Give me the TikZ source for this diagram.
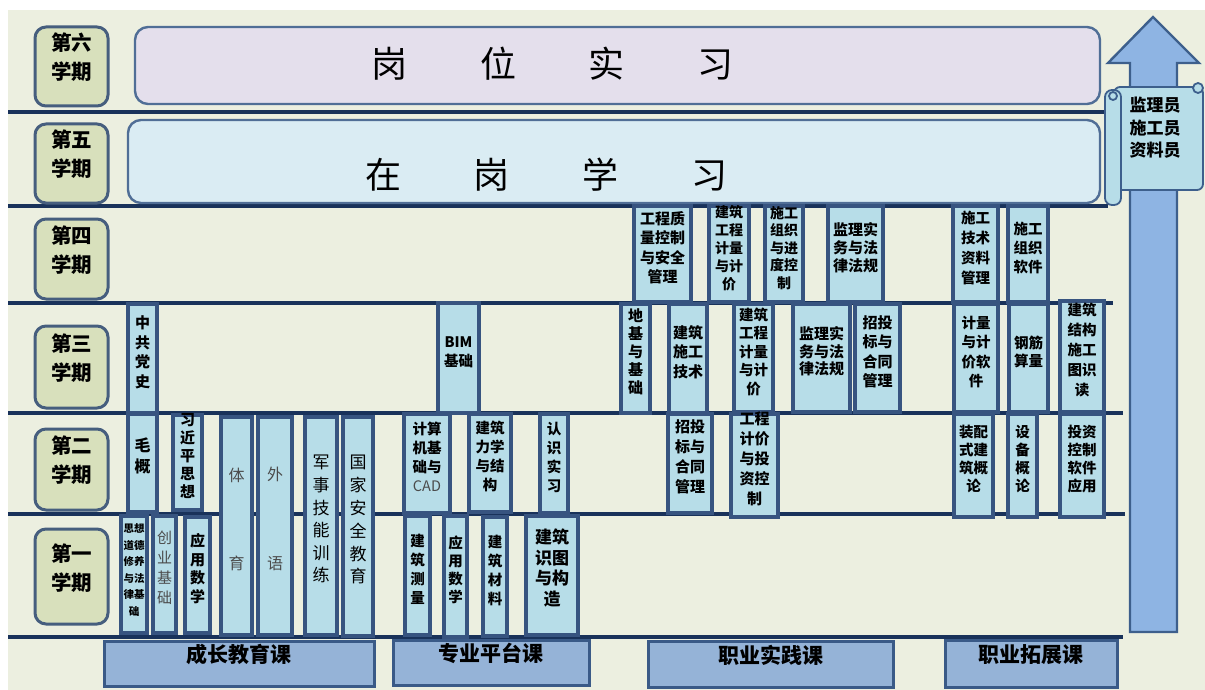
\documentclass[tikz,border=0pt]{standalone}
\usepackage{fontspec}
\setmainfont{Noto Sans CJK SC}
\usetikzlibrary{fit}
\definecolor{bg}{RGB}{236,239,224}
\definecolor{sepcol}{RGB}{25,50,90}
\definecolor{semfill}{RGB}{216,224,188}
\definecolor{semline}{RGB}{70,94,126}
\definecolor{cfill}{RGB}{183,221,232}
\definecolor{cline}{RGB}{55,84,128}
\definecolor{purp}{RGB}{228,223,236}
\definecolor{lblue}{RGB}{218,236,243}
\definecolor{bigline}{RGB}{80,110,150}
\definecolor{catfill}{RGB}{149,179,215}
\definecolor{catline}{RGB}{58,90,135}
\definecolor{arrfill}{RGB}{142,180,227}
\definecolor{arrline}{RGB}{61,95,140}
\definecolor{gtext}{RGB}{75,75,75}
\tikzset{
  sep/.style={draw=sepcol, line width=3.2pt},
  sem/.style={draw=semline, fill=semfill, line width=3pt, rounded corners=11pt, inner sep=0pt, align=center, font=\bfseries\fontsize{20.5}{29}\selectfont},
  bigbox/.style={draw=bigline, line width=2.4pt, rounded corners=13pt, inner sep=0pt},
  bigtext/.style={inner sep=0pt, font=\fontsize{36}{40}\selectfont},
  course/.style={draw=cline, fill=cfill, line width=3.2pt, inner sep=0pt, align=left, font=\bfseries\fontsize{14.5}{19}\selectfont},
  cat/.style={draw=catline, fill=catfill, line width=3pt, inner sep=0pt, font=\bfseries\fontsize{21}{24}\selectfont},
  scrollst/.style={draw=arrline, fill=cfill, line width=1.8pt},
}
\begin{document}
\begin{tikzpicture}[x=1pt,y=-1pt]
\useasboundingbox (0,0) rectangle (1205,690);
\fill[bg] (8,10) rectangle (1205,690);

% arrow
\draw[draw=arrline, fill=arrfill, line width=2.4pt] (1130,632) -- (1130,63) -- (1108,63) -- (1153,17) -- (1199,63) -- (1177,63) -- (1177,632) -- cycle;

% separators
\draw[sep] (8,112) -- (1108,112);
\draw[sep] (8,206) -- (1108,206);
\draw[sep] (8,303) -- (1113,303);
\draw[sep] (8,413) -- (1123,413);
\draw[sep] (8,514) -- (1125,514);
\draw[sep] (8,637) -- (1123,637);

% scroll
\draw[scrollst, rounded corners=6pt] (1114,87) rectangle (1203,190);
\draw[scrollst, rounded corners=7pt] (1105,90) rectangle (1121,205);
\draw[scrollst] (1113,96) circle (4pt);
\draw[scrollst] (1198,88) circle (5pt);
\node[inner sep=0pt, align=center, font=\bfseries\fontsize{17}{22.5}\selectfont] (zhiwei) at (1155,128) {监理员\\施工员\\资料员};

% big boxes
\node[bigbox, fill=purp, fit={(135,27)(1100,104)}] (gwsx) {};
\node[bigtext] (gwsxt) at (552.5,64) {\makebox[108.5pt]{岗}\makebox[108.5pt]{位}\makebox[108.5pt]{实}\makebox[108.5pt]{习}};
\node[bigbox, fill=lblue, fit={(128,120)(1100,203)}] (zgxx) {};
\node[bigtext] (zgxxt) at (546.5,175) {\makebox[109pt]{在}\makebox[109pt]{岗}\makebox[109pt]{学}\makebox[109pt]{习}};

% semester labels
\node[sem, fit={(35,27)(108,106)}] (s6) {第六\\学期};
\node[sem, fit={(35,124)(108,203)}] (s5) {第五\\学期};
\node[sem, fit={(35,219)(108,299)}] (s4) {第四\\学期};
\node[sem, fit={(35,326)(108,408)}] (s3) {第三\\学期};
\node[sem, fit={(35,429)(108,510)}] (s2) {第二\\学期};
\node[sem, fit={(35,529)(108,624)}] (s1) {第一\\学期};

% growth courses
\node[course, fit={(121,516)(147,633)}, font=\bfseries\fontsize{10.5}{16.5}\selectfont] (sxdd) {思想\\道德\\修养\\与法\\律基\\础};
\node[course, fit={(153,516)(176,633)}, font=\fontsize{15}{20}\selectfont, text=gtext] (cyjc) {创\\业\\基\\础};
\node[course, fit={(185,517)(210,633)}, font=\bfseries\fontsize{15}{18.5}\selectfont] (yysx1) {应\\用\\数\\学};
\node[course, fit={(221,417)(252,635)}, font=\fontsize{16}{88}\selectfont, text=gtext] (ty) {体\\育};
\node[course, fit={(258,417)(292,635)}, font=\fontsize{16}{89}\selectfont, text=gtext] (wy) {外\\语};
\node[course, fit={(305,417)(337,635)}, font=\fontsize{17}{22.6}\selectfont] (jsjn) {军\\事\\技\\能\\训\\练};
\node[course, fit={(343,417)(373,636)}, font=\fontsize{17}{22.8}\selectfont] (gjaq) {国\\家\\安\\全\\教\\育};
\node[course, fit={(128,414)(157,512)}, font=\bfseries\fontsize{16}{21}\selectfont] (mg) {毛\\概};
\node[course, fit={(173,415)(202,510)}, font=\bfseries\fontsize{15}{18}\selectfont] (xjp) {习\\近\\平\\思\\想};
\node[course, fit={(128,304)(157,413)}, font=\bfseries\fontsize{15}{19.5}\selectfont] (zgds) {中\\共\\党\\史};

% platform courses
\node[course, fit={(438,303)(479,413)}] (bim) {BIM\\基础};
\node[course, fit={(404,414)(450,513)}] (jsj) {计算\\机基\\础与\\{\mdseries\color{gtext}CAD}};
\node[course, fit={(469,414)(511,512)}] (jzlx) {建筑\\力学\\与结\\构};
\node[course, fit={(540,414)(568,513)}] (rssx) {认\\识\\实\\习};
\node[course, fit={(405,516)(430,635)}] (jzcl) {建\\筑\\测\\量};
\node[course, fit={(444,516)(467,637)}, font=\bfseries\fontsize{14.5}{18}\selectfont] (yysx2) {应\\用\\数\\学};
\node[course, fit={(483,517)(507,636)}] (jzcail) {建\\筑\\材\\料};
\node[course, fit={(526,516)(578,635)}, font=\bfseries\fontsize{17}{20.5}\selectfont] (jzst) {建筑\\识图\\与构\\造};

% practice courses
\node[course, fit={(634,206)(691,302)}, font=\bfseries\fontsize{15}{19.5}\selectfont] (gczl) {工程质\\量控制\\与安全\\管理};
\node[course, fit={(709,206)(749,302)}, font=\bfseries\fontsize{14}{18}\selectfont] (jzgc4) {建筑\\工程\\计量\\与计\\价};
\node[course, fit={(765,206)(803,302)}, font=\bfseries\fontsize{14}{17.5}\selectfont] (sgzz) {施工\\组织\\与进\\度控\\制};
\node[course, fit={(828,206)(883,302)}, font=\bfseries\fontsize{15}{18}\selectfont] (jlsw4) {监理实\\务与法\\律法规};
\node[course, fit={(621,304)(650,413)}, font=\bfseries\fontsize{15}{18}\selectfont] (djjc) {地\\基\\与\\基\\础};
\node[course, fit={(669,304)(707,413)}, font=\bfseries\fontsize{15}{19.5}\selectfont] (jzsg) {建筑\\施工\\技术};
\node[course, fit={(734,304)(773,412)}, font=\bfseries\fontsize{14.5}{18.5}\selectfont] (jzgc3) {建筑\\工程\\计量\\与计\\价};
\node[course, fit={(793,304)(850,412)}, font=\bfseries\fontsize{15}{17.5}\selectfont] (jlsw3) {监理实\\务与法\\律法规};
\node[course, fit={(855,304)(900,412)}, font=\bfseries\fontsize{15}{19.5}\selectfont] (ztb3) {招投\\标与\\合同\\管理};
\node[course, fit={(668,414)(712,513)}, font=\bfseries\fontsize{15}{20}\selectfont] (ztb2) {招投\\标与\\合同\\管理};
\node[course, fit={(731,414)(778,517)}, font=\bfseries\fontsize{15}{20}\selectfont] (gcjj) {工程\\计价\\与投\\资控\\制};

% extension courses
\node[course, fit={(953,206)(998,302)}, font=\bfseries\fontsize{14.5}{20}\selectfont] (sgzl) {施工\\技术\\资料\\管理};
\node[course, fit={(1008,206)(1048,302)}] (sgrj) {施工\\组织\\软件};
\node[course, fit={(954,304)(998,412)}, font=\bfseries\fontsize{14.5}{19.5}\selectfont] (jljjrj) {计量\\与计\\价软\\件};
\node[course, fit={(1009,304)(1048,412)}, font=\bfseries\fontsize{14.5}{18}\selectfont] (gjsl) {钢筋\\算量};
\node[course, fit={(1060,301)(1104,412)}, font=\bfseries\fontsize{14.5}{20}\selectfont] (jzjg) {建筑\\结构\\施工\\图识\\读};
\node[course, fit={(954,414)(993,517)}, font=\bfseries\fontsize{14.5}{18}\selectfont] (zps) {装配\\式建\\筑概\\论};
\node[course, fit={(1008,414)(1037,517)}, font=\bfseries\fontsize{14.5}{18}\selectfont] (sbgl) {设\\备\\概\\论};
\node[course, fit={(1060,414)(1104,517)}, font=\bfseries\fontsize{14.5}{18}\selectfont] (tzkz) {投资\\控制\\软件\\应用};

% categories
\node[cat, fit={(104,641)(374,686)}] (czjy) {成长教育课};
\node[cat, fit={(393,640)(589,685)}] (zypt) {专业平台课};
\node[cat, fit={(648,641)(893,687)}] (zysj) {职业实践课};
\node[cat, fit={(945,640)(1117,687)}] (zytz) {职业拓展课};
\end{tikzpicture}
\end{document}
